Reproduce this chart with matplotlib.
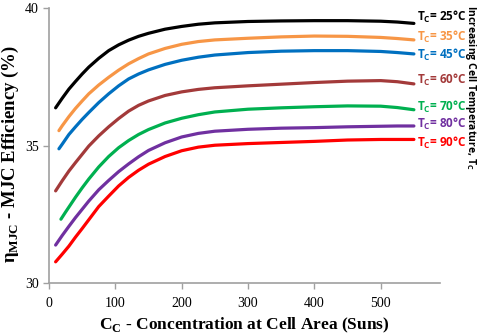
import matplotlib
matplotlib.use("Agg")
import matplotlib.pyplot as plt

# Data
conc = [10, 20, 30, 40, 50, 60, 75, 90, 105, 120, 135, 150, 175, 200, 225, 250,
        300, 350, 400, 450, 500, 525, 550]
conc_late = [15, 20, 30, 40, 50, 60, 75, 90, 105, 120, 135, 150, 175, 200, 225, 250,
             300, 350, 400, 450, 500, 525, 550]
conc_green = [18, 25, 30, 40, 50, 60, 75, 90, 105, 120, 135, 150, 175, 200, 225, 250,
              300, 350, 400, 450, 500, 525, 550]

eff_25 = [36.37, 36.72, 37.05, 37.33, 37.60, 37.85, 38.17, 38.45, 38.66, 38.83, 38.97, 39.08,
          39.23, 39.33, 39.41, 39.46, 39.51, 39.53, 39.54, 39.54, 39.52, 39.49, 39.44]
eff_35 = [35.54, 35.72, 36.05, 36.35, 36.62, 36.88, 37.20, 37.48, 37.74, 37.97, 38.16, 38.33,
          38.53, 38.68, 38.78, 38.84, 38.90, 38.95, 38.98, 38.97, 38.93, 38.89, 38.84]
eff_45 = [34.88, 35.05, 35.40, 35.68, 35.95, 36.20, 36.56, 36.88, 37.17, 37.42, 37.60, 37.75,
          37.95, 38.10, 38.21, 38.29, 38.38, 38.43, 38.45, 38.45, 38.42, 38.38, 38.33]
eff_60 = [33.35, 33.72, 34.07, 34.38, 34.68, 34.98, 35.35, 35.68, 35.98, 36.25, 36.46, 36.62,
          36.82, 36.95, 37.04, 37.10, 37.17, 37.23, 37.29, 37.34, 37.36, 37.32, 37.24]
eff_70 = [32.32, 32.58, 32.76, 33.12, 33.46, 33.78, 34.22, 34.60, 34.92, 35.18, 35.40, 35.58,
          35.82, 35.99, 36.12, 36.22, 36.32, 36.37, 36.41, 36.44, 36.43, 36.38, 36.30]
eff_80 = [31.38, 31.73, 32.06, 32.38, 32.68, 32.98, 33.39, 33.73, 34.05, 34.33, 34.59, 34.82,
          35.10, 35.31, 35.44, 35.52, 35.59, 35.63, 35.65, 35.68, 35.70, 35.71, 35.71]
eff_90 = [30.77, 31.05, 31.34, 31.67, 31.98, 32.30, 32.78, 33.16, 33.53, 33.84, 34.10, 34.32,
          34.60, 34.81, 34.94, 35.01, 35.07, 35.11, 35.15, 35.20, 35.22, 35.22, 35.22]

temps = ["25", "35", "45", "60", "70", "80", "90"]
colors = ["#000000", "#F79646", "#0070C0", "#A33A3A", "#00B050", "#7030A0", "#FF0000"]
series = [(conc, eff_25), (conc_late, eff_35), (conc_late, eff_45), (conc, eff_60),
          (conc_green, eff_70), (conc, eff_80), (conc, eff_90)]
label_y = [39.67, 38.95, 38.29, 37.38, 36.40, 35.78, 35.09]

x_ticks = [0, 100, 200, 300, 400, 500]
y_ticks = [30, 35, 40]

fig = plt.figure(figsize=(4.84, 3.35), dpi=100)
ax = fig.add_axes([0.1012, 0.1552, 0.8088, 0.8209])

for (xs, ys), c in zip(series, colors):
    ax.plot(xs, ys, color=c, lw=2.3, solid_capstyle='round', solid_joinstyle='round')

for t, c, ly in zip(temps, colors, label_y):
    ax.text(555, ly, r"T$_\mathregular{C}$= " + t + "°C", color=c, fontsize=8.5,
            fontweight='bold', family='Open Sans', va='center', ha='left', clip_on=False)

fig.text(0.973, 0.74, r"Increasing Cell Temperature, T$_\mathregular{C}$", rotation=-90,
         fontsize=7.5, fontweight='bold', family='Open Sans', ha='center', va='center')

ax.set_xlim(0, 590)
ax.set_ylim(30, 40)
ax.set_xticks(x_ticks)
ax.set_yticks(y_ticks)
for s in ['top', 'right']:
    ax.spines[s].set_visible(False)
for s in ['left', 'bottom']:
    ax.spines[s].set_color('#A0A0A0')
    ax.spines[s].set_linewidth(1.2)
ax.tick_params(axis='both', colors='#A0A0A0', labelcolor='black', length=4, width=1,
               labelsize=10)
ax.tick_params(axis='x', pad=6)
for lab in ax.get_xticklabels() + ax.get_yticklabels():
    lab.set_family('Liberation Serif')

ax.set_xlabel(r"C$_\mathregular{C}$ - Concentration at Cell Area (Suns)", family='Liberation Serif',
              fontweight='bold', fontsize=12.5, labelpad=4)
ax.set_ylabel(r"η$_\mathregular{MJC}$ - MJC Efficiency (%)", family='Liberation Serif',
              fontweight='bold', fontsize=13.5)
ax.yaxis.set_label_coords(-0.072, 0.47)

fig.savefig("out.png", dpi=100)
